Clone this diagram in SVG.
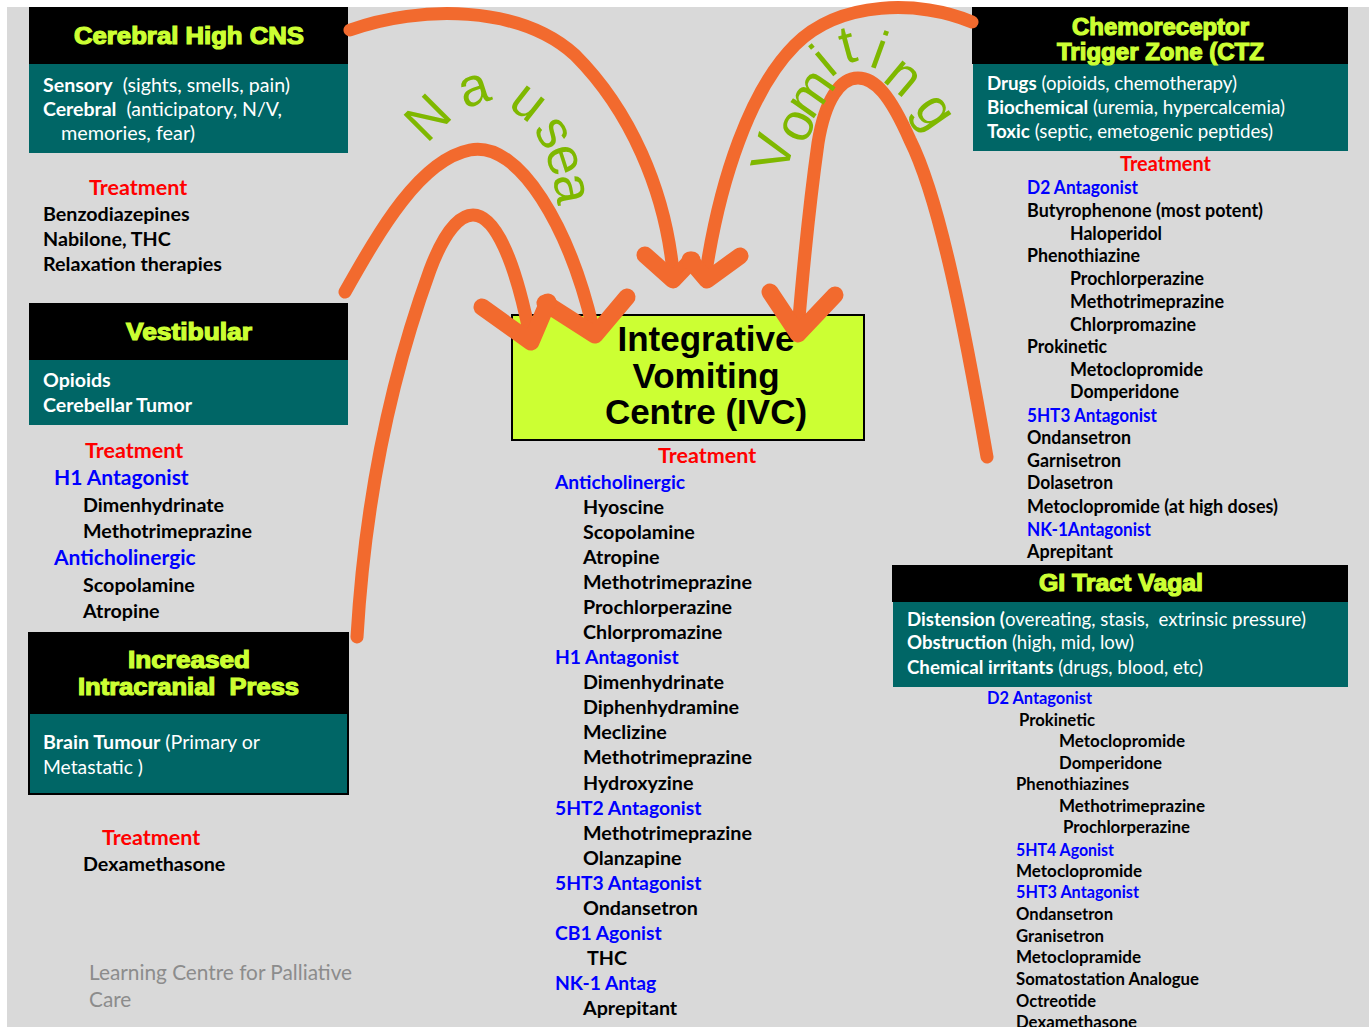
<svg xmlns="http://www.w3.org/2000/svg" width="1369" height="1027" viewBox="0 0 1369 1027">
<defs>
<style>
.bg{fill:#d9d9d9}
.hdr{fill:#000}
.teal{fill:#006666}
.ttl{font-family:"Liberation Sans",Arial,sans-serif;font-weight:bold;fill:#ccff33;stroke:#ccff33;stroke-width:1.2;font-size:23px}
.tw{font-family:Lato,"Liberation Sans",sans-serif;fill:#fff;font-size:19.6px;white-space:pre}
.tw tspan.k{font-weight:bold}
.t{font-family:Lato,"Liberation Sans",sans-serif;font-weight:bold;fill:#000;font-size:19.7px;white-space:pre}
.red{fill:#ff0000;font-size:21.5px}
.blue{fill:#0000ff}
.cb{font-size:19.3px}
.lb{font-size:21px}
.ctz{font-size:18px}
.gi{font-size:16.9px}
.lbl{font-family:"Liberation Sans",Arial,sans-serif;font-size:54px;fill:#7fb800;dominant-baseline:central;text-anchor:middle}
.arr{fill:none;stroke:#f26a2e;stroke-width:13;stroke-linecap:round;stroke-linejoin:round}
.head{fill:none;stroke:#f26a2e;stroke-width:17;stroke-linecap:round;stroke-linejoin:round}
.ivc{font-family:"Liberation Sans",Arial,sans-serif;font-weight:bold;font-size:35px;fill:#000;text-anchor:middle}
.foot{font-family:Lato,"Liberation Sans",sans-serif;fill:#8c8c8c;font-size:20.8px}
</style>
</defs>
<rect x="7" y="7" width="1362" height="1020" class="bg"/>

<g id="cerebral">
<rect x="29" y="7" width="319" height="57" class="hdr"/>
<rect x="29" y="64" width="319" height="89" class="teal"/>
<text x="74" y="44" class="ttl" textLength="230" lengthAdjust="spacingAndGlyphs">Cerebral High CNS</text>
<text x="43" y="92" class="tw" textLength="247" lengthAdjust="spacingAndGlyphs"><tspan class="k">Sensory</tspan>  (sights, smells, pain)</text>
<text x="43" y="116" class="tw" textLength="239" lengthAdjust="spacingAndGlyphs"><tspan class="k">Cerebral</tspan>  (anticipatory, N/V,</text>
<text x="61" y="140" class="tw" textLength="134" lengthAdjust="spacingAndGlyphs">memories, fear)</text>
<text x="89" y="195" class="t red">Treatment</text>
<text x="43" y="221" class="t">Benzodiazepines</text>
<text x="43" y="246" class="t">Nabilone, THC</text>
<text x="43" y="271" class="t">Relaxation therapies</text>
</g>

<g id="vestibular">
<rect x="29" y="303" width="319" height="57" class="hdr"/>
<rect x="29" y="360" width="319" height="65" class="teal"/>
<text x="126" y="340" class="ttl" textLength="126" lengthAdjust="spacingAndGlyphs">Vestibular</text>
<text x="43" y="387" class="tw"><tspan class="k">Opioids</tspan></text>
<text x="43" y="412" class="tw"><tspan class="k">Cerebellar Tumor</tspan></text>
<text x="85" y="458" class="t red">Treatment</text>
<text x="54" y="485" class="t blue lb">H1 Antagonist</text>
<text x="83" y="512" class="t">Dimenhydrinate</text>
<text x="83" y="538" class="t">Methotrimeprazine</text>
<text x="54" y="565" class="t blue lb">Anticholinergic</text>
<text x="83" y="592" class="t">Scopolamine</text>
<text x="83" y="618" class="t">Atropine</text>
</g>

<g id="intracranial">
<rect x="29" y="633" width="319" height="161" fill="none" stroke="#000" stroke-width="2"/>
<rect x="29" y="633" width="319" height="81" class="hdr"/>
<rect x="30" y="714" width="317" height="79" class="teal"/>
<text x="128" y="668" class="ttl" textLength="122" lengthAdjust="spacingAndGlyphs">Increased</text>
<text x="78" y="695" class="ttl" textLength="221" lengthAdjust="spacingAndGlyphs" style="white-space:pre">Intracranial  Press</text>
<text x="43" y="749" class="tw" textLength="217" lengthAdjust="spacingAndGlyphs"><tspan class="k">Brain Tumour</tspan> (Primary or</text>
<text x="43" y="774" class="tw" textLength="100" lengthAdjust="spacingAndGlyphs">Metastatic )</text>
<text x="102" y="845" class="t red">Treatment</text>
<text x="83" y="871" class="t">Dexamethasone</text>
</g>

<g id="footer">
<text x="89" y="980" class="foot">Learning Centre for Palliative</text>
<text x="89" y="1007" class="foot">Care</text>
</g>

<g id="ivc">
<rect x="512" y="315" width="352" height="125" fill="#ccff33" stroke="#000" stroke-width="2"/>
<text x="706" y="351" class="ivc">Integrative</text>
<text x="706" y="388" class="ivc">Vomiting</text>
<text x="706" y="424" class="ivc">Centre (IVC)</text>
<text x="658" y="463" class="t red">Treatment</text>
<text x="555" y="489" class="t blue cb">Anticholinergic</text>
<text x="583" y="514" class="t">Hyoscine</text>
<text x="583" y="539" class="t">Scopolamine</text>
<text x="583" y="564" class="t">Atropine</text>
<text x="583" y="589" class="t">Methotrimeprazine</text>
<text x="583" y="614" class="t">Prochlorperazine</text>
<text x="583" y="639" class="t">Chlorpromazine</text>
<text x="555" y="664" class="t blue cb">H1 Antagonist</text>
<text x="583" y="689" class="t">Dimenhydrinate</text>
<text x="583" y="714" class="t">Diphenhydramine</text>
<text x="583" y="739" class="t">Meclizine</text>
<text x="583" y="764" class="t">Methotrimeprazine</text>
<text x="583" y="790" class="t">Hydroxyzine</text>
<text x="555" y="815" class="t blue cb">5HT2 Antagonist</text>
<text x="583" y="840" class="t">Methotrimeprazine</text>
<text x="583" y="865" class="t">Olanzapine</text>
<text x="555" y="890" class="t blue cb">5HT3 Antagonist</text>
<text x="583" y="915" class="t">Ondansetron</text>
<text x="555" y="940" class="t blue cb">CB1 Agonist</text>
<text x="587" y="965" class="t">THC</text>
<text x="555" y="990" class="t blue cb">NK-1 Antag</text>
<text x="583" y="1015" class="t">Aprepitant</text>
</g>

<g id="ctz">
<rect x="972" y="7" width="376" height="57" class="hdr"/>
<rect x="973" y="64" width="375" height="87" class="teal"/>
<text x="1072" y="35" class="ttl" textLength="177" lengthAdjust="spacingAndGlyphs" font-size="22">Chemoreceptor</text>
<text x="1057" y="60" class="ttl" textLength="207" lengthAdjust="spacingAndGlyphs" font-size="22">Trigger Zone (CTZ</text>
<text x="987" y="90" class="tw" font-size="18.3" textLength="250" lengthAdjust="spacingAndGlyphs"><tspan class="k">Drugs</tspan> (opioids, chemotherapy)</text>
<text x="987" y="114" class="tw" font-size="18.3" textLength="298" lengthAdjust="spacingAndGlyphs"><tspan class="k">Biochemical</tspan> (uremia, hypercalcemia)</text>
<text x="987" y="138" class="tw" font-size="18.3" textLength="286" lengthAdjust="spacingAndGlyphs"><tspan class="k">Toxic</tspan> (septic, emetogenic peptides)</text>
<text x="1120" y="171" class="t red" font-size="18.4" textLength="91" lengthAdjust="spacingAndGlyphs">Treatment</text>
<text x="1027" y="194" class="t ctz blue" textLength="111" lengthAdjust="spacingAndGlyphs">D2 Antagonist</text>
<text x="1027" y="217" class="t ctz" textLength="236" lengthAdjust="spacingAndGlyphs">Butyrophenone (most potent)</text>
<text x="1070" y="240" class="t ctz" textLength="92" lengthAdjust="spacingAndGlyphs">Haloperidol</text>
<text x="1027" y="262" class="t ctz" textLength="113" lengthAdjust="spacingAndGlyphs">Phenothiazine</text>
<text x="1070" y="285" class="t ctz" textLength="134" lengthAdjust="spacingAndGlyphs">Prochlorperazine</text>
<text x="1070" y="308" class="t ctz" textLength="154" lengthAdjust="spacingAndGlyphs">Methotrimeprazine</text>
<text x="1070" y="331" class="t ctz" textLength="126" lengthAdjust="spacingAndGlyphs">Chlorpromazine</text>
<text x="1027" y="353" class="t ctz" textLength="80" lengthAdjust="spacingAndGlyphs">Prokinetic</text>
<text x="1070" y="376" class="t ctz" textLength="133" lengthAdjust="spacingAndGlyphs">Metoclopromide</text>
<text x="1070" y="398" class="t ctz" textLength="109" lengthAdjust="spacingAndGlyphs">Domperidone</text>
<text x="1027" y="422" class="t ctz blue" textLength="130" lengthAdjust="spacingAndGlyphs">5HT3 Antagonist</text>
<text x="1027" y="444" class="t ctz" textLength="104" lengthAdjust="spacingAndGlyphs">Ondansetron</text>
<text x="1027" y="467" class="t ctz" textLength="94" lengthAdjust="spacingAndGlyphs">Garnisetron</text>
<text x="1027" y="489" class="t ctz" textLength="86" lengthAdjust="spacingAndGlyphs">Dolasetron</text>
<text x="1027" y="513" class="t ctz" textLength="251" lengthAdjust="spacingAndGlyphs">Metoclopromide (at high doses)</text>
<text x="1027" y="536" class="t ctz blue" textLength="124" lengthAdjust="spacingAndGlyphs">NK-1Antagonist</text>
<text x="1027" y="558" class="t ctz" textLength="86" lengthAdjust="spacingAndGlyphs">Aprepitant</text>
</g>

<g id="gi-tract">
<rect x="892" y="565" width="456" height="37" class="hdr"/>
<rect x="893" y="602" width="455" height="85" class="teal"/>
<text x="1039" y="591" class="ttl" textLength="164" lengthAdjust="spacingAndGlyphs" font-size="22">GI Tract Vagal</text>
<text x="907" y="626" class="tw" font-size="17.5" textLength="399" lengthAdjust="spacingAndGlyphs"><tspan class="k">Distension (</tspan>overeating, stasis,  extrinsic pressure)</text>
<text x="907" y="649" class="tw" font-size="17.5" textLength="227" lengthAdjust="spacingAndGlyphs"><tspan class="k">Obstruction</tspan> (high, mid, low)</text>
<text x="907" y="674" class="tw" font-size="17.5" textLength="296" lengthAdjust="spacingAndGlyphs"><tspan class="k">Chemical irritants</tspan> (drugs, blood, etc)</text>
<text x="987" y="704" class="t gi blue" textLength="105" lengthAdjust="spacingAndGlyphs">D2 Antagonist</text>
<text x="1019" y="726" class="t gi" textLength="76" lengthAdjust="spacingAndGlyphs">Prokinetic</text>
<text x="1059" y="747" class="t gi" textLength="126" lengthAdjust="spacingAndGlyphs">Metoclopromide</text>
<text x="1059" y="769" class="t gi" textLength="103" lengthAdjust="spacingAndGlyphs">Domperidone</text>
<text x="1016" y="790" class="t gi" textLength="113" lengthAdjust="spacingAndGlyphs">Phenothiazines</text>
<text x="1059" y="812" class="t gi" textLength="146" lengthAdjust="spacingAndGlyphs">Methotrimeprazine</text>
<text x="1063" y="833" class="t gi" textLength="127" lengthAdjust="spacingAndGlyphs">Prochlorperazine</text>
<text x="1016" y="856" class="t gi blue" textLength="98" lengthAdjust="spacingAndGlyphs">5HT4 Agonist</text>
<text x="1016" y="877" class="t gi" textLength="126" lengthAdjust="spacingAndGlyphs">Metoclopromide</text>
<text x="1016" y="898" class="t gi blue" textLength="123" lengthAdjust="spacingAndGlyphs">5HT3 Antagonist</text>
<text x="1016" y="920" class="t gi" textLength="97" lengthAdjust="spacingAndGlyphs">Ondansetron</text>
<text x="1016" y="942" class="t gi" textLength="88" lengthAdjust="spacingAndGlyphs">Granisetron</text>
<text x="1016" y="963" class="t gi" textLength="125" lengthAdjust="spacingAndGlyphs">Metoclopramide</text>
<text x="1016" y="985" class="t gi" textLength="183" lengthAdjust="spacingAndGlyphs">Somatostation Analogue</text>
<text x="1016" y="1007" class="t gi" textLength="80" lengthAdjust="spacingAndGlyphs">Octreotide</text>
<text x="1016" y="1028" class="t gi" textLength="121" lengthAdjust="spacingAndGlyphs">Dexamethasone</text>
</g>

<g id="connectors">
<path class="arr" d="M350,30 C420,5 520,5 575,55 C630,110 665,190 673,272"/>
<path class="head" d="M645,255 L673,280 L692,260"/>
<path class="arr" d="M972,22 C920,0 840,0 795,45 C750,90 720,180 706,272"/>
<path class="head" d="M690,260 L707,280 L740,256"/>
<path class="arr" d="M345,292 C380,230 420,160 470,150 C520,140 570,230 593,328"/>
<path class="head" d="M545,303 L595,335 L627,297"/>
<path class="arr" d="M357,637 C365,500 390,380 430,270 C445,230 460,215 473,215 C495,215 515,260 530,336"/>
<path class="head" d="M482,307 L531,342 L548,302"/>
<path class="arr" d="M987,457 C965,330 940,200 910,140 C890,95 875,78 858,78 C840,78 825,100 818,143 C810,200 803,270 798,330"/>
<path class="head" d="M770,292 L798,334 L835,295"/>
</g>

<g id="labels">
<text class="lbl" transform="translate(427,117) rotate(-45)">N</text>
<text class="lbl" transform="translate(473,86) rotate(-18)">a</text>
<text class="lbl" transform="translate(530,100) rotate(38)">u</text>
<text class="lbl" transform="translate(556,131) rotate(60)">s</text>
<text class="lbl" transform="translate(567,159) rotate(72)">e</text>
<text class="lbl" transform="translate(574,188) rotate(80)">a</text>
<text class="lbl" transform="translate(772,153) rotate(-75)">V</text>
<text class="lbl" transform="translate(794,124) rotate(-65)">o</text>
<text class="lbl" transform="translate(809,92) rotate(-55)">m</text>
<text class="lbl" transform="translate(823,60) rotate(-40)">i</text>
<text class="lbl" transform="translate(847,44) rotate(-15)">t</text>
<text class="lbl" transform="translate(880,50) rotate(20)">i</text>
<text class="lbl" transform="translate(905,75) rotate(40)">n</text>
<text class="lbl" transform="translate(937,110) rotate(55)">g</text>
</g>
</svg>
